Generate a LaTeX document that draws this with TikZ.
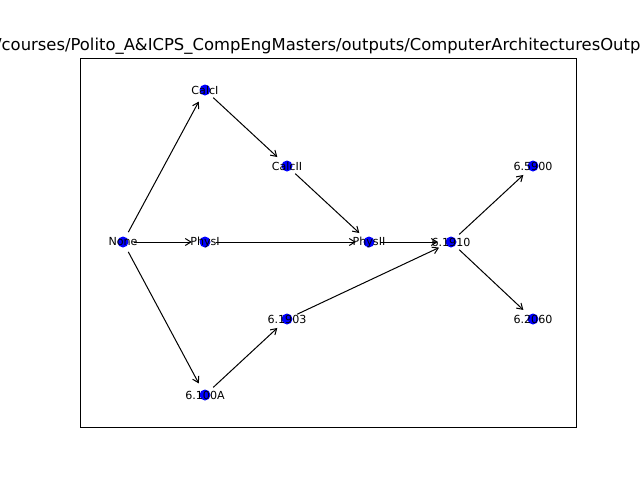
\documentclass[tikz,border=0pt]{standalone}
\usepackage{fontspec}
\setmainfont{DejaVu Sans}
\usetikzlibrary{arrows.meta}

\begin{document}
\begin{tikzpicture}[x=1pt, y=1pt,
  dot/.style={circle, fill=blue, inner sep=0pt, minimum size=11pt,
    label={[font=\fontsize{11.1}{13}\selectfont, text=black, inner sep=0pt]center:#1}},
  edge/.style={-{Straight Barb[length=5.6pt,width=7pt]}, line width=1pt,
    shorten <=5.5pt, shorten >=7.5pt}]
\useasboundingbox (0,0) rectangle (640,-480);
\draw[line width=1pt] (80,-58) rectangle (576,-427);
\node[anchor=base west, inner sep=0pt, font=\fontsize{16.4}{20}\selectfont] (title) at (-4,-50)
  {/courses/Polito\_A\&ICPS\_CompEngMasters/outputs/ComputerArchitecturesOutp};
% courses
\foreach \n/\x/\y/\t in {none/123/242/None, calcI/205/90/CalcI, calcII/287/166/CalcII,
  physI/205/242/PhysI, physII/369/242/PhysII, c1910/451/242/6.1910,
  c5900/533/166/6.5900, c2060/533/319/6.2060, c1903/287/319/6.1903,
  c100A/205/395/6.100A}
  {\node[dot=\t] (\n) at (\x,-\y) {};}
% prerequisites
\foreach \a/\b in {none/calcI, none/physI, none/c100A, calcI/calcII, calcII/physII,
  physI/physII, physII/c1910, c100A/c1903, c1903/c1910, c1910/c5900, c1910/c2060}
  {\draw[edge] (\a) -- (\b);}
\end{tikzpicture}
\end{document}
